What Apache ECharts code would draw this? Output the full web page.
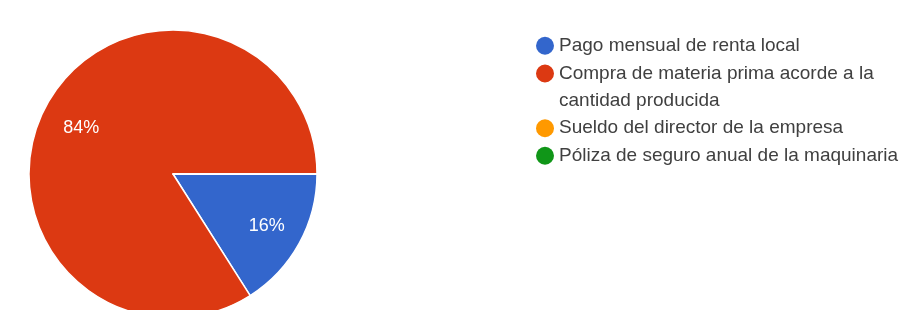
<!DOCTYPE html>
<html>
<head>
<meta charset="utf-8">
<style>
  html, body { margin: 0; padding: 0; background: #fff; }
  #chart { width: 910px; height: 310px; }
</style>
<script src="https://cdn.jsdelivr.net/npm/echarts@6/dist/echarts.min.js"></script>
</head>
<body>
<div id="chart"></div>
<script>
// respuestas (%)
const categories = [
  'Pago mensual de renta local',
  'Compra de materia prima acorde a la cantidad producida',
  'Sueldo del director de la empresa',
  'Póliza de seguro anual de la maquinaria'
];
const values = [16, 84, 0, 0];
const colors = ['#3366cc', '#dc3912', '#ff9900', '#109618'];

const FONT = '"Liberation Sans", Arial, sans-serif';
const LINE_H = 27.5;
const LEGEND_X = 536;

const myChart = echarts.init(document.getElementById('chart'), null, { renderer: 'canvas' });

const pieData = categories.map((name, i) => ({
  name: name,
  value: values[i],
  itemStyle: { color: colors[i] }
}));

// segunda serie solo para poner las etiquetas más hacia fuera
const labelData = categories.map((name, i) => ({
  name: name,
  value: values[i],
  // la etiqueta grande va un poco más abajo en el original
  label: i === 1 ? { offset: [2, 6] } : {}
}));

// la leyenda se parte en tres bloques para que el punto de la opción larga
// quede alineado con su primera línea
function legendBlock(idx, top, extra) {
  return Object.assign({
    orient: 'vertical',
    left: LEGEND_X,
    top: top,
    padding: 0,
    itemGap: 0,
    itemWidth: 18,
    itemHeight: 18,
    icon: 'circle',
    selectedMode: false,
    itemStyle: { borderWidth: 0 },
    textStyle: {
      fontFamily: FONT,
      fontSize: 19,
      color: '#404040',
      lineHeight: LINE_H
    },
    formatter: function (name) {
      if (name === categories[1]) {
        return 'Compra de materia prima acorde a la\ncantidad producida';
      }
      return name;
    },
    data: idx.map(i => ({ name: categories[i], itemStyle: { color: colors[i] } }))
  }, extra || {});
}

const option = {
  animation: false,
  legend: [
    legendBlock([0], 32),
    legendBlock([1], 59.75, {
      itemHeight: 55,
      icon: 'path://M9,0L9,0.01M0,13.75A9,9,0,1,1,18,13.75A9,9,0,1,1,0,13.75ZM9,54.99L9,55'
    }),
    legendBlock([2, 3], 114.5)
  ],
  series: [
    {
      name: 'gastos',
      type: 'pie',
      center: [173, 174],
      radius: [0, 144],
      startAngle: 0,
      clockwise: true,
      avoidLabelOverlap: false,
      label: { show: false },
      labelLine: { show: false },
      itemStyle: { borderColor: '#ffffff', borderWidth: 1.5 },
      emphasis: { disabled: true },
      data: pieData
    },
    {
      name: 'etiquetas',
      type: 'pie',
      silent: true,
      center: [173, 174],
      radius: [64, 144],
      startAngle: 0,
      clockwise: true,
      avoidLabelOverlap: false,
      itemStyle: { color: 'rgba(0,0,0,0)', borderWidth: 0 },
      label: {
        show: true,
        position: 'inside',
        color: '#ffffff',
        fontFamily: FONT,
        fontSize: 18,
        formatter: function (p) {
          return p.value > 0 ? Math.round(p.percent) + '%' : '';
        }
      },
      labelLine: { show: false },
      emphasis: { disabled: true },
      data: labelData
    }
  ]
};

option && myChart.setOption(option);
</script>
</body>
</html>
